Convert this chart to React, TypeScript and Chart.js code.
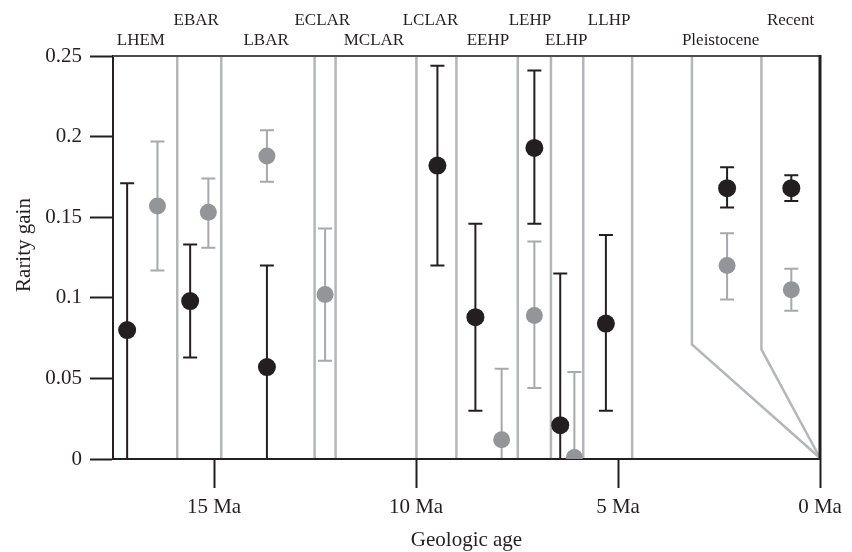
import React, { useEffect, useRef } from "react";
import { Chart, registerables } from "chart.js";

Chart.register(...registerables);

// ---- data (ages in Ma, rarity gain) ----
const blackAge = [17.15, 15.59, 13.69, 9.47, 8.53, 7.07, 6.43, 5.3, 2.3, 0.71];
const blackGain = [0.08, 0.098, 0.057, 0.182, 0.088, 0.193, 0.021, 0.084, 0.168, 0.168];
const blackLow = [0, 0.063, 0, 0.12, 0.03, 0.146, 0, 0.03, 0.156, 0.16];
const blackHigh = [0.171, 0.133, 0.12, 0.244, 0.146, 0.241, 0.115, 0.139, 0.181, 0.176];

const grayAge = [16.4, 15.14, 13.69, 12.25, 7.88, 7.07, 6.08, 2.3, 0.71];
const grayGain = [0.157, 0.153, 0.188, 0.102, 0.012, 0.089, 0.001, 0.12, 0.105];
const grayLow = [0.117, 0.131, 0.172, 0.061, 0, 0.044, 0, 0.099, 0.092];
const grayHigh = [0.197, 0.174, 0.204, 0.143, 0.056, 0.135, 0.054, 0.14, 0.118];

const boundaryAges = [15.91, 14.82, 12.51, 11.99, 9.99, 9.0, 7.48, 6.66, 5.86, 4.65];
const breakAges = [3.17, 1.45];
const breakGain = [0.071, 0.068];

const periodNames = ["LHEM", "EBAR", "LBAR", "ECLAR", "MCLAR", "LCLAR", "EEHP", "LEHP", "ELHP", "LLHP", "Pleistocene", "Recent"];
const periodLabelAges = [16.81, 15.44, 13.71, 12.32, 11.04, 9.64, 8.22, 7.18, 6.28, 5.22, 2.46, 0.73];
const periodRows = [2, 1, 2, 1, 2, 1, 2, 1, 2, 1, 2, 1];

const xTickValues = [15, 10, 5, 0];
const xTickLabels = ["15 Ma", "10 Ma", "5 Ma", "0 Ma"];
const yTickValues = [0, 0.05, 0.1, 0.15, 0.2, 0.25];
const yTickLabels = ["0", "0.05", "0.1", "0.15", "0.2", "0.25"];

const xTitle = "Geologic age";
const yTitle = "Rarity gain";

// ---- styles ----
const FONT = "'Liberation Serif', 'DejaVu Serif', serif";
const BLACK = "#231f20";
const GRAY_PT = "#939598";
const GRAY_BAR = "#a7a9ac";
const GRAY_LINE = "#b4b6b9";

const overlay = {
  id: "overlay",
  beforeDatasetsDraw(chart: any) {
    const { ctx, chartArea: a, scales } = chart;
    const xs = scales.x;
    const ys = scales.y;
    ctx.save();
    // period boundaries
    ctx.strokeStyle = GRAY_LINE;
    ctx.lineWidth = 2.5;
    boundaryAges.forEach((age) => {
      const x = xs.getPixelForValue(age);
      ctx.beginPath();
      ctx.moveTo(x, a.top);
      ctx.lineTo(x, a.bottom - 1);
      ctx.stroke();
    });
    // broken scale lines
    breakAges.forEach((age, i) => {
      const x = xs.getPixelForValue(age);
      ctx.beginPath();
      ctx.moveTo(x, a.top);
      ctx.lineTo(x, ys.getPixelForValue(breakGain[i]));
      ctx.lineTo(xs.getPixelForValue(0), ys.getPixelForValue(0) - 1);
      ctx.stroke();
    });
    // error bars
    const drawBars = (ages: number[], lows: number[], highs: number[], color: string) => {
      ctx.strokeStyle = color;
      ctx.lineWidth = 2;
      ages.forEach((age, i) => {
        const x = xs.getPixelForValue(age);
        const y1 = ys.getPixelForValue(lows[i]);
        const y2 = ys.getPixelForValue(highs[i]);
        ctx.beginPath();
        ctx.moveTo(x, lows[i] > 0 ? y1 : y1 - 1);
        ctx.lineTo(x, y2);
        ctx.moveTo(x - 7, y2);
        ctx.lineTo(x + 7, y2);
        if (lows[i] > 0) {
          ctx.moveTo(x - 7, y1);
          ctx.lineTo(x + 7, y1);
        }
        ctx.stroke();
      });
    };
    drawBars(grayAge, grayLow, grayHigh, GRAY_BAR);
    drawBars(blackAge, blackLow, blackHigh, BLACK);
    ctx.restore();
  },
  afterDraw(chart: any) {
    const { ctx, chartArea: a, scales } = chart;
    const xs = scales.x;
    ctx.save();
    // frame top and right
    ctx.strokeStyle = "#4d4d4f";
    ctx.lineWidth = 2;
    ctx.beginPath();
    ctx.moveTo(a.left, a.top);
    ctx.lineTo(a.right, a.top);
    ctx.stroke();
    ctx.strokeStyle = BLACK;
    ctx.lineWidth = 3;
    ctx.beginPath();
    ctx.moveTo(a.right, a.top - 1);
    ctx.lineTo(a.right, a.bottom + 1);
    ctx.stroke();
    // period labels
    ctx.fillStyle = BLACK;
    ctx.font = `17px ${FONT}`;
    ctx.textAlign = "center";
    ctx.textBaseline = "alphabetic";
    periodNames.forEach((name, i) => {
      const x = xs.getPixelForValue(periodLabelAges[i]);
      const y = periodRows[i] === 1 ? a.top - 31 : a.top - 11;
      ctx.fillText(name, x, y);
    });
    // axis titles
    ctx.font = `21px ${FONT}`;
    ctx.fillText(xTitle, (a.left + a.right) / 2, a.bottom + 87);
    ctx.translate(24, 245);
    ctx.rotate(-Math.PI / 2);
    ctx.textBaseline = "middle";
    ctx.fillText(yTitle, 0, 0);
    ctx.restore();
  },
};

export default function App() {
  const ref = useRef<HTMLCanvasElement | null>(null);
  useEffect(() => {
    if (!ref.current) return;
    const chart = new Chart(ref.current, {
      type: "scatter",
      data: {
        datasets: [
          {
            label: "black",
            data: blackAge.map((a, i) => ({ x: a, y: blackGain[i] })),
            pointRadius: 9,
            pointHoverRadius: 9,
            backgroundColor: BLACK,
            borderWidth: 0,
            clip: 0,
          },
          {
            label: "gray",
            data: grayAge.map((a, i) => ({ x: a, y: grayGain[i] })),
            pointRadius: 8.5,
            pointHoverRadius: 8.5,
            backgroundColor: GRAY_PT,
            borderWidth: 0,
            clip: 0,
          },
        ],
      },
      options: {
        animation: false,
        responsive: false,
        devicePixelRatio: 1,
        events: [],
        layout: { padding: { top: 56, right: 32, left: 0, bottom: 0 } },
        plugins: { legend: { display: false }, tooltip: { enabled: false } },
        scales: {
          x: {
            type: "linear",
            position: "bottom",
            reverse: true,
            min: 0,
            max: 17.5,
            afterBuildTicks: (s: any) => {
              s.ticks = xTickValues.map((v) => ({ value: v }));
            },
            afterFit: (s: any) => {
              s.height = 93;
            },
            ticks: {
              autoSkip: false,
              maxRotation: 0,
              padding: 7,
              color: BLACK,
              font: { family: FONT, size: 21 },
              callback: (_v: any, i: number) => xTickLabels[i],
            },
            grid: {
              drawOnChartArea: false,
              drawTicks: true,
              tickLength: 29,
              tickWidth: 2,
              tickColor: BLACK,
            },
            border: { display: true, color: BLACK, width: 2 },
          },
          y: {
            type: "linear",
            min: 0,
            max: 0.25,
            afterBuildTicks: (s: any) => {
              s.ticks = yTickValues.map((v) => ({ value: v }));
            },
            afterFit: (s: any) => {
              s.width = 113;
            },
            ticks: {
              padding: 8,
              color: BLACK,
              font: { family: FONT, size: 21 },
              callback: (_v: any, i: number) => yTickLabels[i],
            },
            grid: {
              drawOnChartArea: false,
              drawTicks: true,
              tickLength: 23,
              tickWidth: 2,
              tickColor: BLACK,
            },
            border: { display: true, color: BLACK, width: 2 },
          },
        },
      },
      plugins: [overlay],
    });
    return () => chart.destroy();
  }, []);
  return (
    <div style={{ position: "fixed", left: 0, top: 0, width: 852, height: 552, background: "#fff" }}>
      <canvas ref={ref} width={852} height={552} style={{ display: "block" }} />
    </div>
  );
}
